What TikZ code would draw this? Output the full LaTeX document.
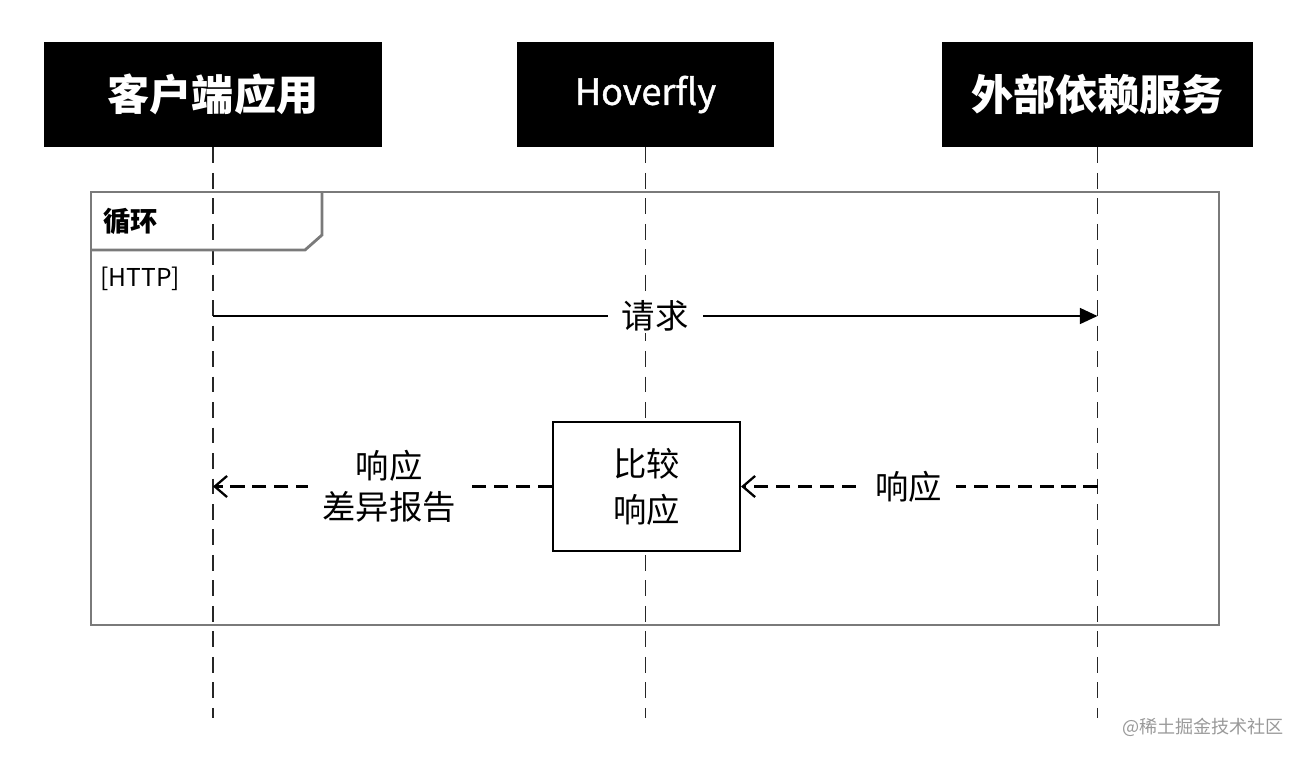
\documentclass[tikz,border=0pt]{standalone}
\usepackage{fontspec}
\setmainfont{Noto Sans CJK SC}
\newfontfamily\hoverfont[FakeBold=1.2]{Noto Sans CJK SC}
\usetikzlibrary{arrows.meta}

\tikzset{
	head/.style={fill=black, text=white, inner sep=0pt, minimum height=2.1cm, font=\bfseries\fontsize{24}{28}\selectfont},
	life/.style={line width=1pt, black!85, dash pattern=on 9pt off 5.5pt},
	frame/.style={line width=1.6pt, black!52},
	msg/.style={line width=1.2pt, -{Triangle[length=10pt,width=9pt]}},
	reply/.style={line width=1.3pt, dash pattern=on 8pt off 4.5pt, -{Straight Barb[length=7pt,width=12pt,line width=1.3pt]}},
	lbl/.style={fill=white, inner xsep=8pt, inner ysep=1pt, font=\fontsize{19}{22}\selectfont, align=center},
}

\begin{document}
\begin{tikzpicture}[x=0.02cm, y=-0.02cm]
		\useasboundingbox (0,0) rectangle (1304,758);
		
		\node [head, minimum width=6.76cm] (client) at (213,94.5) {客户端应用};
		\node [head, minimum width=5.14cm, font=\hoverfont\fontsize{20.5}{24}\selectfont] (hover) at (645.5,94.5) {Hoverfly};
		\node [head, minimum width=6.22cm] (dep) at (1097.5,94.5) {外部依赖服务};
		
		\coordinate (client end) at (client.south |- 0,718);
		\coordinate (hover end) at (hover.south |- 0,718);
		\coordinate (dep end) at (dep.south |- 0,718);
		\draw[life] (client.south) -- (client end);
		\draw[life] (hover.south) -- (hover end);
		\draw[life] (dep.south) -- (dep end);
		
		\draw[frame] (91,192) rectangle (1219,625);
		\draw[frame] (322,192) -- (322,235) -- (305,250) -- (91,250);
		\node [anchor=west, inner sep=0pt, font=\bfseries\fontsize{15.5}{18}\selectfont] (loop) at (103,221) {循环};
		\node [anchor=west, inner sep=0pt, font=\fontsize{14}{17}\selectfont] (guard) at (100,279) {[HTTP]};
		
		\coordinate (req from) at (client.south |- 0,316);
		\coordinate (req to) at (dep.south |- 0,316);
		\draw[msg] (req from) -- node[lbl] (req) {请求} (req to);
		
		\node [draw, line width=1.2pt, fill=white, minimum width=3.74cm, minimum height=2.58cm, align=center, font=\fontsize{19}{26}\selectfont] (cmp) at (646.5,486.5) {比较\\响应};
		
		\coordinate (resp from) at (dep.south |- cmp.east);
		\draw[reply] (resp from) -- node[lbl, pos=0.53] (resp) {响应} (cmp.east);
		
		\coordinate (diff to) at (client.south |- cmp.west);
		\draw[reply] (cmp.west) -- node[lbl, pos=0.48, font=\fontsize{19}{23}\selectfont] (diff) {响应\\差异报告} (diff to);
		
		\node [text=black!40, font=\fontsize{10.3}{12}\selectfont] (mark) at (1203,727) {@稀土掘金技术社区};
		\end{tikzpicture}
\end{document}
